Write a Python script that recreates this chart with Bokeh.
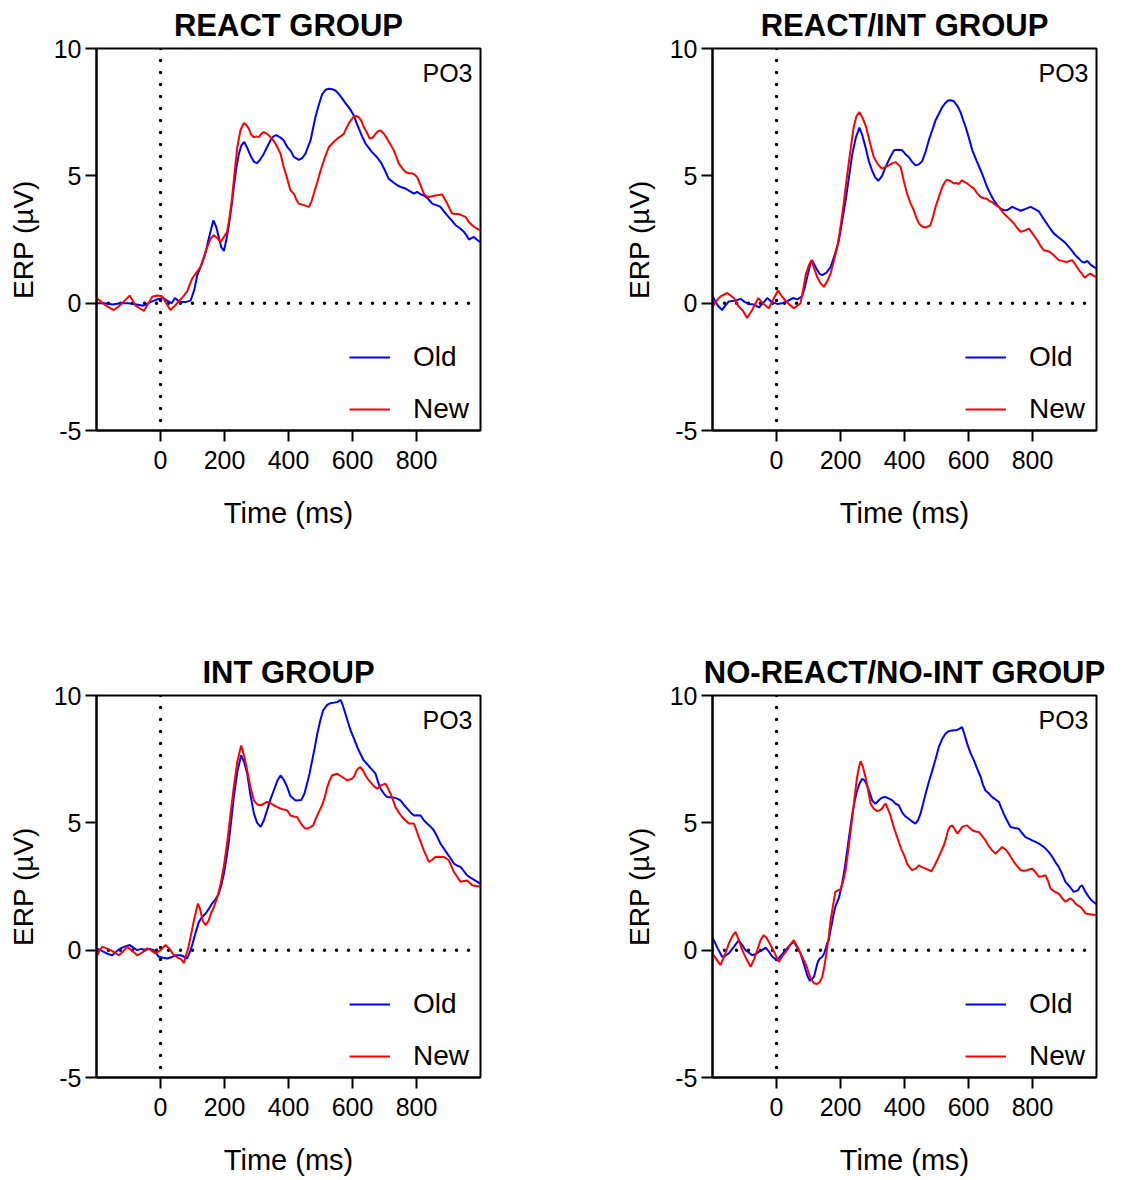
from bokeh.plotting import figure
from bokeh.layouts import column, row
from bokeh.models import Span, Label, Legend, LegendItem, FixedTicker, Range1d
from bokeh.embed import file_html
from bokeh.resources import INLINE

FONT = "Liberation Sans"

# Axis ticks
x_ticks = [0, 200, 400, 600, 800]
x_tick_labels = ["0", "200", "400", "600", "800"]
y_ticks = [-5, 0, 5, 10]
y_tick_labels = ["-5", "0", "5", "10"]

channel = "PO3"
titles = ["REACT GROUP", "REACT/INT GROUP", "INT GROUP", "NO-REACT/NO-INT GROUP"]

# ---- REACT group: grand-average ERP (µV) at PO3, time in ms ----
react_old_t = [-200, -175, -150, -125, -100, -75, -53, -30, -10, 9, 20, 35, 45, 60, 80, 94, 105, 115, 128, 140,
               152, 165, 174, 182, 190, 198, 206, 214, 222, 229, 237, 245, 253, 262, 271, 281, 292, 302, 312, 323,
               334, 344, 353, 362, 375, 385, 396, 406, 417, 432, 443, 453, 469, 484, 495, 505, 516, 526, 537, 547,
               558, 568, 578, 588, 596, 604, 612, 620, 630, 641, 651, 661, 675, 688, 700, 713, 727, 740, 753, 766,
               779, 792, 802, 812, 823, 836, 849, 862, 875, 886, 896, 910, 922, 935, 948, 957, 964, 972, 979, 988, 1000]
react_old_v = [0.0, 0.0, -0.05, 0.0, 0.0, -0.05, -0.1, 0.05, 0.15, 0.2, 0.1, 0.0, 0.2, 0.05, 0.05, 0.1, 0.5, 1.1, 1.5, 1.95,
               2.6, 3.25, 3.0, 2.6, 2.2, 2.05, 2.5, 3.1, 3.8, 4.56, 5.3, 5.87, 6.2, 6.33, 6.1, 5.8, 5.55, 5.5, 5.65, 5.87,
               6.15, 6.4, 6.55, 6.6, 6.5, 6.4, 6.13, 6.0, 5.74, 5.63, 5.7, 5.87, 6.4, 7.3, 7.8, 8.2, 8.38, 8.42, 8.4, 8.35,
               8.2, 8.03, 7.85, 7.7, 7.55, 7.37, 7.1, 6.85, 6.55, 6.26, 6.1, 5.93, 5.75, 5.54, 5.25, 4.89, 4.75, 4.63, 4.55, 4.5,
               4.4, 4.3, 4.37, 4.28, 4.23, 4.1, 3.91, 3.85, 3.78, 3.6, 3.45, 3.25, 3.06, 2.95, 2.8, 2.65, 2.5, 2.55, 2.6, 2.5, 2.4]

react_new_t = [-200, -185, -170, -146, -133, -120, -108, -96, -87, -78, -65, -52, -40, -26, -10, 5, 18, 31, 45, 57,
               70, 83, 99, 112, 125, 135, 146, 157, 167, 178, 188, 198, 208, 216, 224, 232, 240, 250, 260, 268,
               276, 284, 292, 300, 307, 315, 323, 333, 344, 355, 365, 375, 385, 396, 406, 417, 425, 432, 448, 464,
               472, 479, 490, 500, 513, 526, 539, 552, 563, 573, 580, 588, 596, 604, 612, 620, 628, 635, 645, 654,
               663, 672, 680, 688, 698, 708, 718, 729, 737, 745, 755, 766, 776, 786, 794, 802, 812, 823, 831, 839,
               849, 859, 870, 880, 888, 896, 904, 911, 922, 932, 942, 953, 963, 974, 985, 1000]
react_new_v = [0.2, 0.05, -0.1, -0.27, -0.15, 0.0, 0.15, 0.3, 0.1, -0.1, -0.2, -0.3, -0.05, 0.25, 0.3, 0.27, 0.0, -0.27, -0.1, 0.07,
               0.25, 0.45, 0.97, 1.2, 1.42, 1.8, 2.2, 2.55, 2.67, 2.55, 2.4, 2.6, 2.8, 3.4, 4.17, 5.2, 6.13, 6.8, 7.07, 7.0,
               6.85, 6.6, 6.52, 6.55, 6.52, 6.65, 6.72, 6.65, 6.52, 6.35, 6.13, 5.87, 5.35, 4.89, 4.43, 4.3, 4.05, 3.91, 3.85, 3.78,
               4.0, 4.3, 4.75, 5.2, 5.7, 6.13, 6.3, 6.46, 6.55, 6.65, 6.85, 7.05, 7.2, 7.33, 7.35, 7.3, 7.15, 6.92, 6.7, 6.46,
               6.5, 6.65, 6.75, 6.78, 6.65, 6.46, 6.25, 6.0, 5.75, 5.48, 5.3, 5.15, 5.1, 5.1, 5.05, 4.95, 4.65, 4.3, 4.2, 4.17,
               4.2, 4.23, 4.25, 4.27, 4.1, 3.91, 3.7, 3.52, 3.5, 3.5, 3.45, 3.39, 3.2, 3.06, 2.95, 2.86]

# ---- REACT/INT group ----
reactint_old_t = [-200, -196, -183, -170, -160, -149, -130, -112, -100, -86, -70, -55, -42, -29, -15, 2, 18, 33, 51, 65,
                  80, 88, 96, 104, 111, 119, 127, 135, 143, 156, 169, 182, 195, 205, 216, 226, 237, 248, 259, 268,
                  278, 288, 299, 308, 318, 330, 341, 354, 367, 380, 393, 403, 413, 424, 434, 445, 455, 466, 476, 487,
                  497, 508, 518, 527, 536, 545, 554, 565, 575, 583, 591, 601, 612, 625, 638, 648, 658, 668, 679, 690,
                  700, 710, 721, 729, 737, 750, 763, 778, 794, 806, 820, 830, 841, 854, 867, 880, 893, 904, 914, 924,
                  934, 945, 955, 963, 971, 982, 1000]
reactint_old_v = [0.3, 0.18, -0.1, -0.27, -0.1, 0.07, 0.1, 0.17, 0.05, -0.03, -0.05, -0.17, 0.0, 0.2, 0.05, -0.03, 0.0, 0.07, 0.2, 0.15,
                  0.27, 0.6, 1.03, 1.45, 1.69, 1.5, 1.3, 1.15, 1.1, 1.2, 1.42, 1.9, 2.47, 3.2, 4.04, 4.9, 5.87, 6.5, 6.89, 6.6,
                  6.13, 5.6, 5.2, 4.95, 4.8, 5.0, 5.35, 5.7, 6.0, 6.02, 6.0, 5.85, 5.74, 5.55, 5.41, 5.45, 5.57, 5.95, 6.4, 6.8,
                  7.18, 7.45, 7.7, 7.85, 7.96, 7.97, 7.93, 7.75, 7.5, 7.2, 6.92, 6.5, 6.0, 5.6, 5.22, 4.9, 4.56, 4.3, 4.04, 3.85,
                  3.71, 3.66, 3.65, 3.72, 3.78, 3.7, 3.63, 3.7, 3.78, 3.7, 3.6, 3.4, 3.19, 2.95, 2.73, 2.6, 2.47, 2.35, 2.2, 2.05,
                  1.88, 1.75, 1.62, 1.6, 1.66, 1.5, 1.36]

reactint_new_t = [-200, -187, -175, -154, -133, -118, -105, -92, -76, -57, -43, -24, -10, 5, 15, 28, 40, 54, 65, 75,
                  83, 91, 100, 109, 118, 127, 137, 148, 158, 169, 180, 190, 200, 210, 220, 231, 241, 250, 259, 270,
                  280, 292, 304, 317, 330, 341, 351, 362, 372, 380, 388, 398, 408, 418, 429, 437, 445, 456, 466, 481,
                  489, 497, 508, 518, 526, 533, 543, 554, 562, 570, 580, 588, 596, 606, 617, 628, 638, 648, 658, 666,
                  674, 684, 695, 705, 716, 729, 742, 752, 763, 776, 789, 802, 815, 825, 835, 846, 856, 869, 882, 895,
                  908, 924, 935, 945, 955, 963, 972, 981, 994, 1000]
reactint_new_v = [-0.14, 0.1, 0.27, 0.4, 0.2, -0.13, -0.3, -0.58, -0.27, 0.2, 0.0, -0.2, 0.15, 0.5, 0.3, 0.1, -0.05, -0.2, -0.1, 0.0,
                  0.5, 1.1, 1.45, 1.69, 1.35, 1.03, 0.8, 0.64, 0.85, 1.16, 1.7, 2.2, 3.0, 3.91, 4.95, 6.0, 6.9, 7.35, 7.5, 7.25,
                  6.92, 6.3, 5.74, 5.45, 5.28, 5.35, 5.41, 5.5, 5.54, 5.45, 5.35, 4.8, 4.3, 3.95, 3.65, 3.35, 3.13, 3.0, 2.97, 3.06,
                  3.4, 3.78, 4.2, 4.56, 4.75, 4.85, 4.8, 4.7, 4.72, 4.68, 4.83, 4.75, 4.7, 4.6, 4.5, 4.3, 4.17, 4.12, 4.1, 4.0,
                  3.97, 3.85, 3.78, 3.6, 3.45, 3.3, 3.13, 2.95, 2.8, 2.85, 2.93, 2.7, 2.47, 2.25, 2.08, 2.05, 2.0, 1.85, 1.69, 1.65,
                  1.62, 1.69, 1.5, 1.3, 1.15, 1.0, 1.1, 1.16, 1.05, 1.05]

# ---- INT group ----
int_old_t = [-200, -188, -177, -164, -151, -138, -125, -110, -96, -85, -73, -60, -47, -34, -21, -5, 8, 21, 34, 47,
             63, 73, 83, 91, 99, 110, 120, 130, 141, 151, 161, 172, 182, 190, 198, 206, 214, 222, 229, 240,
             252, 261, 271, 281, 292, 302, 313, 323, 333, 343, 354, 365, 375, 385, 396, 406, 422, 440, 450, 458,
             466, 474, 482, 490, 499, 508, 520, 531, 542, 552, 563, 570, 578, 586, 594, 605, 615, 625, 635, 646,
             656, 664, 672, 680, 688, 698, 708, 718, 729, 740, 750, 761, 771, 782, 792, 802, 813, 823, 833, 844,
             854, 865, 875, 886, 896, 907, 917, 927, 938, 948, 958, 966, 974, 985, 1000]
int_old_v = [0.07, 0.0, -0.07, -0.15, -0.2, -0.05, 0.07, 0.15, 0.2, 0.1, 0.0, 0.05, 0.0, 0.05, 0.0, -0.26, -0.3, -0.33, -0.28, -0.2,
             -0.2, -0.25, -0.33, -0.1, 0.2, 0.7, 1.11, 1.3, 1.44, 1.62, 1.83, 2.0, 2.22, 2.55, 3.0, 3.6, 4.31, 5.2, 6.01, 7.0,
             7.65, 7.4, 6.93, 6.1, 5.36, 5.0, 4.84, 5.1, 5.49, 5.9, 6.27, 6.65, 6.86, 6.7, 6.4, 6.05, 5.88, 5.9, 6.15, 6.54,
             6.95, 7.45, 7.95, 8.5, 9.0, 9.41, 9.62, 9.7, 9.72, 9.74, 9.83, 9.6, 9.28, 8.95, 8.63, 8.3, 7.97, 7.7, 7.45, 7.3,
             7.16, 7.05, 6.93, 6.6, 6.34, 6.15, 6.01, 6.0, 5.99, 5.95, 5.88, 5.7, 5.56, 5.4, 5.29, 5.3, 5.29, 5.1, 4.97, 4.85,
             4.71, 4.45, 4.18, 3.98, 3.79, 3.6, 3.4, 3.32, 3.27, 3.1, 2.94, 2.87, 2.81, 2.72, 2.6]

int_new_t = [-200, -190, -182, -170, -156, -143, -130, -117, -104, -90, -73, -58, -42, -30, -16, 0, 16, 28, 42, 55,
             64, 73, 80, 87, 94, 105, 117, 124, 132, 141, 150, 158, 167, 178, 188, 198, 208, 218, 229, 240,
             252, 262, 271, 281, 292, 302, 313, 323, 333, 343, 354, 365, 375, 385, 396, 406, 417, 427, 435, 443,
             450, 458, 467, 477, 483, 490, 497, 505, 513, 521, 528, 536, 544, 552, 560, 568, 576, 583, 591, 599,
             606, 613, 619, 625, 633, 641, 648, 656, 666, 677, 688, 695, 703, 711, 719, 727, 734, 745, 755, 765,
             776, 784, 792, 800, 807, 815, 823, 831, 839, 849, 859, 872, 885, 893, 901, 909, 917, 927, 938, 948,
             958, 966, 974, 985, 1000]
int_new_v = [-0.26, 0.0, 0.13, 0.08, 0.0, -0.1, -0.2, -0.05, 0.13, 0.0, -0.2, -0.1, 0.07, 0.0, -0.13, 0.0, 0.2, 0.05, -0.2, -0.3,
             -0.35, -0.5, -0.2, 0.1, 0.52, 1.2, 1.83, 1.6, 1.15, 0.98, 1.15, 1.45, 1.7, 2.1, 2.61, 3.3, 4.18, 5.25, 6.4, 7.4,
             8.04, 7.6, 7.06, 6.4, 5.88, 5.72, 5.69, 5.75, 5.82, 5.78, 5.69, 5.62, 5.56, 5.52, 5.49, 5.29, 5.25, 5.23, 5.05, 4.9,
             4.8, 4.77, 4.82, 4.9, 5.1, 5.29, 5.48, 5.69, 6.0, 6.4, 6.65, 6.86, 6.9, 6.93, 6.86, 6.8, 6.73, 6.67, 6.7, 6.73,
             6.85, 7.06, 7.15, 7.19, 7.05, 6.86, 6.72, 6.6, 6.45, 6.34, 6.47, 6.5, 6.54, 6.35, 6.14, 5.88, 5.62, 5.4, 5.23, 5.1,
             4.97, 4.97, 4.97, 4.7, 4.44, 4.18, 3.92, 3.68, 3.46, 3.55, 3.66, 3.67, 3.66, 3.6, 3.53, 3.3, 3.07, 2.88, 2.68, 2.72,
             2.74, 2.65, 2.55, 2.52, 2.5]

# ---- NO-REACT/NO-INT group ----
noreact_old_t = [-200, -196, -183, -170, -160, -149, -135, -118, -107, -97, -86, -76, -65, -55, -45, -34, -24, -13, 2, 15,
                 28, 42, 54, 65, 75, 85, 91, 98, 104, 110, 117, 123, 129, 136, 143, 150, 158, 163, 169, 174,
                 179, 185, 190, 195, 205, 213, 221, 229, 237, 245, 252, 260, 268, 276, 283, 291, 299, 309, 317, 325,
                 333, 341, 352, 362, 372, 382, 393, 403, 413, 424, 434, 442, 450, 458, 466, 476, 487, 497, 507, 518,
                 528, 538, 549, 557, 565, 572, 580, 588, 596, 606, 617, 628, 638, 645, 653, 664, 674, 684, 695, 702,
                 710, 720, 731, 744, 757, 767, 778, 788, 799, 809, 820, 830, 841, 851, 862, 872, 882, 893, 903, 916,
                 929, 942, 949, 955, 965, 976, 985, 1000]
noreact_old_v = [0.5, 0.39, 0.05, -0.26, -0.22, -0.13, 0.1, 0.39, 0.2, 0.0, -0.1, -0.2, -0.15, -0.07, 0.0, 0.1, -0.05, -0.26, -0.39, -0.2,
                 0.0, 0.2, 0.33, 0.1, -0.13, -0.52, -0.78, -1.05, -1.2, -1.15, -1.05, -0.75, -0.46, -0.32, -0.26, -0.1, 0.26, 0.39, 0.8, 1.1,
                 1.44, 1.75, 1.9, 2.05, 2.61, 3.2, 3.92, 4.65, 5.36, 5.9, 6.27, 6.55, 6.73, 6.65, 6.47, 6.2, 5.88, 5.75, 5.85, 5.95,
                 6.0, 6.01, 5.95, 5.88, 5.75, 5.69, 5.4, 5.25, 5.16, 5.05, 4.97, 5.1, 5.36, 5.75, 6.14, 6.6, 7.06, 7.5, 7.97, 8.3,
                 8.5, 8.6, 8.63, 8.64, 8.65, 8.7, 8.76, 8.45, 8.1, 7.75, 7.45, 7.1, 6.8, 6.5, 6.27, 6.15, 6.01, 5.92, 5.82, 5.6,
                 5.36, 5.1, 4.84, 4.8, 4.77, 4.6, 4.44, 4.38, 4.31, 4.25, 4.18, 4.1, 3.99, 3.85, 3.66, 3.45, 3.27, 2.98, 2.68, 2.5,
                 2.29, 2.35, 2.5, 2.55, 2.3, 2.09, 1.95, 1.8]

noreact_new_t = [-200, -188, -175, -162, -149, -138, -128, -118, -107, -94, -81, -70, -60, -50, -40, -32, -24, -10, 7, 20,
                 33, 45, 54, 67, 80, 93, 106, 117, 127, 135, 143, 150, 156, 163, 169, 176, 184, 192, 200, 208,
                 216, 226, 237, 245, 252, 258, 263, 270, 278, 286, 294, 304, 315, 323, 330, 336, 341, 348, 356, 366,
                 377, 389, 401, 408, 416, 424, 435, 445, 456, 466, 475, 484, 493, 502, 512, 523, 530, 536, 542, 549,
                 557, 565, 573, 580, 588, 596, 604, 612, 622, 632, 642, 653, 663, 674, 684, 695, 705, 716, 726, 734,
                 742, 752, 763, 773, 783, 791, 799, 810, 820, 830, 841, 849, 856, 869, 882, 892, 903, 911, 919, 927,
                 934, 942, 950, 958, 966, 975, 985, 1000]
noreact_new_v = [-0.13, -0.35, -0.59, -0.2, 0.26, 0.55, 0.72, 0.4, 0.0, -0.35, -0.65, -0.35, 0.0, 0.39, 0.59, 0.5, 0.33, 0.0, -0.46, -0.2,
                 0.0, 0.25, 0.39, 0.1, -0.26, -0.6, -1.1, -1.3, -1.33, -1.25, -1.05, -0.6, -0.13, 0.5, 1.18, 1.7, 2.3, 2.35, 2.38, 2.7,
                 3.14, 4.1, 5.23, 6.1, 6.8, 7.2, 7.42, 7.2, 6.8, 6.3, 5.75, 5.55, 5.46, 5.5, 5.56, 5.7, 5.75, 5.55, 5.29, 4.85,
                 4.44, 4.0, 3.66, 3.4, 3.25, 3.14, 3.2, 3.33, 3.25, 3.2, 3.15, 3.1, 3.3, 3.53, 3.8, 4.12, 4.4, 4.71, 4.85, 4.9,
                 4.75, 4.58, 4.7, 4.84, 4.88, 4.9, 4.8, 4.71, 4.66, 4.64, 4.5, 4.31, 4.1, 3.92, 3.79, 3.92, 4.05, 3.95, 3.79, 3.62,
                 3.46, 3.3, 3.14, 3.12, 3.14, 3.18, 3.2, 3.05, 2.88, 2.9, 2.94, 2.7, 2.42, 2.3, 2.22, 2.05, 1.9, 1.98, 2.03, 1.95,
                 1.83, 1.75, 1.7, 1.58, 1.44, 1.42, 1.4, 1.37]

OLD_COLOR = "#0000ff"
NEW_COLOR = "#ff0000"


def make_panel(title, old_t, old_v, new_t, new_v, width, height, right_border, bottom_border):
    p = figure(width=width, height=height, title=title,
               x_range=Range1d(-200, 1000), y_range=Range1d(-5, 10),
               output_backend="svg", toolbar_location=None,
               min_border_left=96, min_border_right=right_border,
               min_border_top=48, min_border_bottom=bottom_border)
    p.grid.visible = False
    p.outline_line_color = "black"
    p.outline_line_width = 2
    p.outline_line_alpha = 1.0
    p.background_fill_color = "white"
    p.border_fill_color = "white"

    p.title.text_font = FONT
    p.title.text_font_size = "31px"
    p.title.text_font_style = "bold"
    p.title.text_color = "black"
    p.title.align = "center"
    p.title.standoff = 11

    for ax in (p.xaxis[0], p.yaxis[0]):
        ax.axis_line_width = 2
        ax.axis_line_color = "black"
        ax.major_tick_line_width = 2
        ax.major_tick_line_color = "black"
        ax.major_tick_out = 11
        ax.major_tick_in = 0
        ax.minor_tick_line_color = None
        ax.major_label_text_font = FONT
        ax.major_label_text_font_size = "25px"
        ax.major_label_text_color = "black"
        ax.axis_label_text_font = FONT
        ax.axis_label_text_font_style = "normal"
        ax.axis_label_text_color = "black"

    p.xaxis.ticker = FixedTicker(ticks=x_ticks)
    p.xaxis.major_label_overrides = dict(zip(x_ticks, x_tick_labels))
    p.xaxis.major_label_standoff = 9
    p.xaxis.axis_label = "Time (ms)"
    p.xaxis.axis_label_text_font_size = "29px"
    p.xaxis.axis_label_standoff = 25

    p.yaxis.ticker = FixedTicker(ticks=y_ticks)
    p.yaxis.major_label_overrides = dict(zip(y_ticks, y_tick_labels))
    p.yaxis.major_label_standoff = 4
    p.yaxis.axis_label = "ERP (µV)"
    p.yaxis.axis_label_text_font_size = "28px"
    p.yaxis.axis_label_standoff = 12

    # dotted reference lines at stimulus onset and zero voltage
    for dim in ("height", "width"):
        p.add_layout(Span(location=0, dimension=dim, line_color="black",
                          line_width=3.5, line_dash="0 12", line_cap="round",
                          level="underlay"))

    r_old = p.line(old_t, old_v, line_color=OLD_COLOR, line_width=2)
    r_new = p.line(new_t, new_v, line_color=NEW_COLOR, line_width=2)

    legend = Legend(items=[LegendItem(label="Old", renderers=[r_old]),
                           LegendItem(label="New", renderers=[r_new])],
                    location=(253, 5), margin=0, padding=7,
                    glyph_width=41, glyph_height=30, label_height=30,
                    label_standoff=23, spacing=20,
                    label_text_font=FONT, label_text_font_size="28px",
                    label_text_color="black",
                    border_line_color=None, background_fill_alpha=0)
    p.add_layout(legend)

    p.add_layout(Label(x=1000, y=10, text=channel, text_align="right",
                       text_baseline="top", x_offset=-8, y_offset=-10,
                       text_font=FONT, text_font_size="25px", text_color="black"))
    return p


p1 = make_panel(titles[0], react_old_t, react_old_v, react_new_t, react_new_v, 616, 647, 136, 217)
p2 = make_panel(titles[1], reactint_old_t, reactint_old_v, reactint_new_t, reactint_new_v, 508, 647, 28, 217)
p3 = make_panel(titles[2], int_old_t, int_old_v, int_new_t, int_new_v, 616, 533, 136, 103)
p4 = make_panel(titles[3], noreact_old_t, noreact_old_v, noreact_new_t, noreact_new_v, 508, 533, 28, 103)

layout = column(row(p1, p2), row(p3, p4))

open("out.html", "w").write(file_html(layout, INLINE))
